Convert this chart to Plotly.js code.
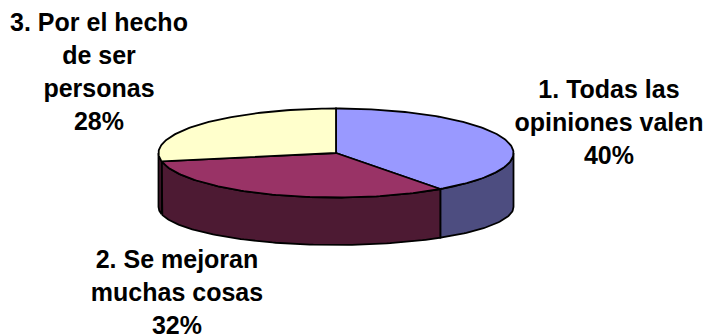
<!DOCTYPE html>
<html><head><meta charset="utf-8"><script src="https://cdn.plot.ly/plotly-3.0.1.min.js"></script>
<style>html,body{margin:0;padding:0;background:#fff}#c{width:707px;height:336px}</style></head><body><div id="c"></div><script>
const categories=[["1. Todas las","opiniones valen","40%"],["2. Se mejoran","muchas cosas","32%"],["3. Por el hecho","de ser","personas","28%"]];
const values=[40,32,28];
const topColors=["#9999ff","#993366","#ffffcc"];
const sideColors=["#4d4d80","#4d1a33","#4d1a33"];
const labelX=[609,177,99];
const labelY=[92,262,25];
const lineGap=32.8;
const cx=336,cy=153,rx=177.5,ry=44.5,depth=54,bottomRy=38;
const total=values.reduce((a,b)=>a+b,0);
const px=a=>cx+rx*Math.sin(a), py=a=>cy-ry*Math.cos(a), pyb=a=>cy+depth-bottomRy*Math.cos(a);
const line={color:"#000",width:1.8};
const traces=[];
function arc(a0,a1){const n=Math.max(2,Math.ceil(Math.abs(a1-a0)/0.02));const r=[];for(let i=0;i<=n;i++)r.push(a0+(a1-a0)*i/n);return r;}
let acc=0;const spans=values.map(v=>{const s=[acc,acc+v/total*2*Math.PI];acc=s[1];return s;});
spans.forEach((s,i)=>{
  const a0=Math.max(s[0],Math.PI/2),a1=Math.min(s[1],3*Math.PI/2);
  if(a1<=a0)return;
  const a=arc(a0,a1),b=arc(a1,a0);
  traces.push({type:"scatter",mode:"lines",fill:"toself",fillcolor:sideColors[i],line,hoverinfo:"skip",
    x:[...a.map(px),...b.map(px),px(a0)],
    y:[...a.map(py),...b.map(pyb),py(a0)]});
});
spans.forEach((s,i)=>{
  const a=arc(s[0],s[1]);
  traces.push({type:"scatter",mode:"lines",fill:"toself",fillcolor:topColors[i],line,hoverinfo:"skip",
    x:[cx,...a.map(px),cx],y:[cy,...a.map(py),cy]});
});
const tx=[],ty=[],tt=[];
categories.forEach((c,i)=>c.forEach((t,j)=>{tx.push(labelX[i]);ty.push(labelY[i]+j*lineGap);tt.push(t);}));
traces.push({type:"scatter",mode:"text",x:tx,y:ty,text:tt,textposition:"middle center",hoverinfo:"skip",cliponaxis:false,
  textfont:{family:"Liberation Sans, Arial, sans-serif",size:25,color:"#000",weight:700}});
Plotly.newPlot("c",traces,{width:707,height:336,margin:{l:0,r:0,t:0,b:0},showlegend:false,paper_bgcolor:"#fff",plot_bgcolor:"#fff",
  xaxis:{range:[0,707],visible:false,fixedrange:true},yaxis:{range:[336,0],visible:false,fixedrange:true}},{displayModeBar:false,staticPlot:true});
</script></body></html>
